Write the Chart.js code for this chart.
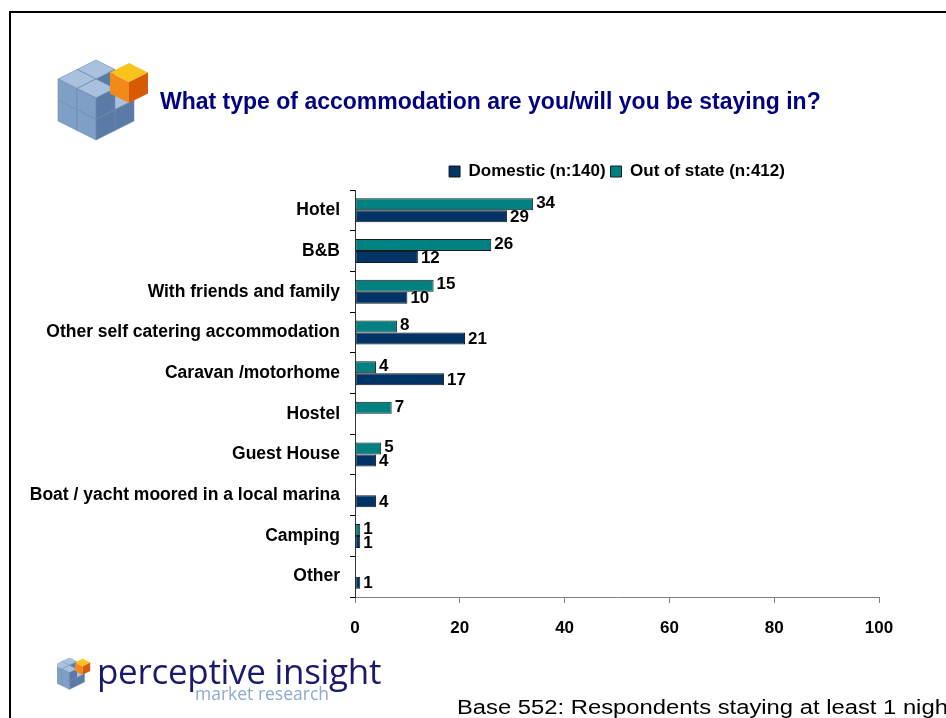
<!DOCTYPE html>
<html>
<head>
<meta charset="utf-8">
<title>Accommodation type</title>
<script src="https://cdn.jsdelivr.net/npm/chart.js@4.4.1/dist/chart.umd.min.js"></script>
<style>
    body { margin: 0; background: #fff; }
    #page { position: relative; width: 946px; height: 718px; overflow: hidden; font-family: "Liberation Sans", Arial, sans-serif; }
    #page canvas { position: absolute; left: 0; top: 0; }
    /* slide frame: top and left rules only */
    .frame-top { position: absolute; left: 9px; top: 11px; width: 940px; height: 2px; background: #000; }
    .frame-left { position: absolute; left: 9px; top: 11px; width: 2px; height: 720px; background: #000; }
    .title { position: absolute; left: 160px; top: 88px; font-weight: bold; font-size: 23px; color: #000080; white-space: nowrap; }
    .cubes { position: absolute; left: 50px; top: 56px; }
    .brand { position: absolute; left: 57px; top: 658px; }
    .brand-name { position: absolute; left: 97px; top: 647px; font-family: "Open Sans", sans-serif; font-size: 35px; color: #1a1a6c; white-space: nowrap; letter-spacing: -0.3px; }
    .brand-sub { position: absolute; left: 195px; top: 681px; font-family: "Open Sans", sans-serif; font-size: 17.5px; color: #8ea9d2; white-space: nowrap; }
    .base { position: absolute; left: 457px; top: 696px; font-size: 20px; color: #000; white-space: nowrap; transform: scaleX(1.19); transform-origin: 0 0; }
</style>
</head>
<body>
<div id="page">
    <canvas id="accomChart" width="946" height="718"></canvas>
    <div class="frame-top"></div>
    <div class="frame-left"></div>

    <!-- cube block logo next to the question -->
    <svg class="cubes" width="110" height="95" viewBox="0 0 110 95">
        <defs>
            <g id="cubeBlue" stroke="#6f8db5" stroke-width="0.6">
                <polygon points="0,0 19,9.5 0,19 -19,9.5" fill="#a9c1de"/>
                <polygon points="-19,9.5 0,19 0,40 -19,30.5" fill="#809fc6"/>
                <polygon points="0,19 19,9.5 19,30.5 0,40" fill="#5b7ba6"/>
            </g>
            <g id="cubeOrange">
                <polygon points="0,0 19,9.5 0,19 -19,9.5" fill="#f8c31c"/>
                <polygon points="-19,9.5 0,19 0,40 -19,30.5" fill="#f28a1b"/>
                <polygon points="0,19 19,9.5 19,30.5 0,40" fill="#d85a06"/>
            </g>
            <g id="cubeBlock">
                <!-- bottom layer, back to front -->
                <use href="#cubeBlue" x="46" y="25"/>
                <use href="#cubeBlue" x="65" y="34.5"/>
                <use href="#cubeBlue" x="27" y="34.5"/>
                <use href="#cubeBlue" x="46" y="44"/>
                <!-- top layer, right-hand cube left out -->
                <use href="#cubeBlue" x="46" y="4"/>
                <use href="#cubeBlue" x="27" y="13.5"/>
                <use href="#cubeBlue" x="46" y="23"/>
                <use href="#cubeOrange" x="79" y="7"/>
            </g>
        </defs>
        <use href="#cubeBlock"/>
    </svg>
    <div class="title">What type of accommodation are you/will you be staying in?</div>

    <!-- small logo, bottom left -->
    <svg class="brand" width="42" height="38" viewBox="0 0 42 38">
        <g transform="translate(-6,-2) scale(0.4)">
            <use href="#cubeBlock"/>
        </g>
    </svg>
    <div class="brand-name">perceptive insight</div>
    <div class="brand-sub">market research</div>

    <div class="base">Base 552: Respondents staying at least 1 night</div>
</div>

<script>
// --- Chart data (percent of respondents) ---
const categories = [
    'Hotel',
    'B&B',
    'With friends and family',
    'Other self catering accommodation',
    'Caravan /motorhome',
    'Hostel',
    'Guest House',
    'Boat / yacht moored in a local marina',
    'Camping',
    'Other'
];
// null = nobody picked it, so no bar and no label
const domesticValues   = [29, 12, 10, 21, 17, null, 4, 4, 1, 1];
const outOfStateValues = [34, 26, 15, 8, 4, 7, 5, null, 1, null];
const seriesNames = ['Domestic (n:140)', 'Out of state (n:412)'];
const xTicks = [0, 20, 40, 60, 80, 100];

const FONT = '"Liberation Sans", Arial, sans-serif';
const NAVY = '#003366';
const TEAL = '#008080';

/**
 * Value labels
 * ------------
 * Writes each bar's value just past its end.
 */
const valueLabels = {
    id: 'valueLabels',
    afterDatasetsDraw(chart) {
        const ctx = chart.ctx;
        ctx.save();
        ctx.font = 'bold 17px ' + FONT;
        ctx.fillStyle = '#000';
        ctx.textAlign = 'left';
        ctx.textBaseline = 'middle';
        chart.data.datasets.forEach(function(ds, di) {
            const meta = chart.getDatasetMeta(di);
            meta.data.forEach(function(bar, i) {
                const v = ds.data[i];
                if (v === null || v === undefined) return;
                // top bar label sits a touch high, lower one a touch low
                const dy = di === 0 ? -1 : 1;
                ctx.fillText(String(v), bar.x + 3, bar.y + dy);
            });
        });
        ctx.restore();
    }
};

function initAccommodationChart() {
    if (typeof Chart === 'undefined') {
        console.warn('Chart.js library is not loaded. Skipping chart.');
        return;
    }
    const canvas = document.getElementById('accomChart');
    try {
        new Chart(canvas.getContext('2d'), {
            type: 'bar',
            data: {
                labels: categories,
                // out of state is listed first so it draws above domestic
                datasets: [{
                    label: seriesNames[1],
                    data: outOfStateValues,
                    backgroundColor: TEAL,
                    borderColor: '#1a1a1a',
                    borderWidth: 1,
                    borderSkipped: false
                }, {
                    label: seriesNames[0],
                    data: domesticValues,
                    backgroundColor: NAVY,
                    borderColor: '#1a1a1a',
                    borderWidth: 1,
                    borderSkipped: false
                }]
            },
            options: {
                indexAxis: 'y',
                responsive: false,
                animation: false,
                events: [],
                categoryPercentage: 0.59,
                barPercentage: 1.0,
                layout: { padding: { top: 158, left: 0, right: 67, bottom: 0 } },
                scales: {
                    x: {
                        min: 0,
                        max: 100,
                        afterBuildTicks(scale) {
                            scale.ticks = xTicks.map(function(v) { return { value: v }; });
                        },
                        afterFit(scale) { scale.height = 121; },
                        grid: { drawOnChartArea: false, tickLength: 6, color: '#808080' },
                        border: { color: '#808080', width: 1 },
                        ticks: { color: '#000', padding: 15, font: { family: FONT, size: 17, weight: 'bold' } }
                    },
                    y: {
                        afterFit(scale) { scale.width = 355; },
                        grid: { drawOnChartArea: false, tickLength: 5, color: '#000', offset: true },
                        border: { color: '#333', width: 1 },
                        ticks: { color: '#000', padding: 10, font: { family: FONT, size: 17.5, weight: 'bold' } }
                    }
                },
                plugins: {
                    legend: {
                        position: 'top',
                        fullSize: false,
                        reverse: true,
                        labels: {
                            boxWidth: 11,
                            boxHeight: 11,
                            padding: 5,
                            color: '#000',
                            font: { family: FONT, size: 17, weight: 'bold' }
                        }
                    },
                    tooltip: { enabled: false }
                }
            },
            plugins: [valueLabels]
        });
    } catch (e) {
        console.error('Error initializing accomChart:', e);
    }
}

initAccommodationChart();
</script>
</body>
</html>
